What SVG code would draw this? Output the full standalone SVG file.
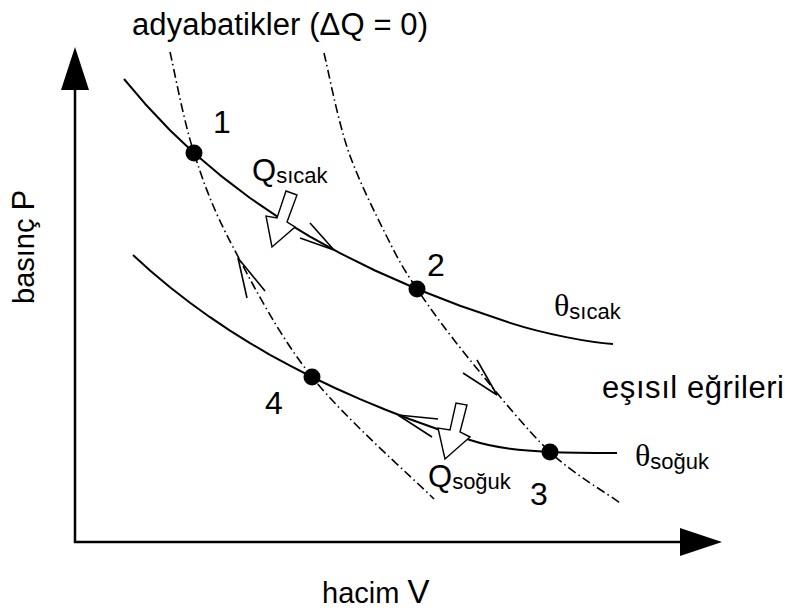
<svg xmlns="http://www.w3.org/2000/svg" width="785" height="613" viewBox="0 0 785 613">
<style>
  .t { font-family: "Liberation Sans", Arial, sans-serif; fill: #000; }
  .g { font-family: "Liberation Serif", "Times New Roman", serif; fill: #000; }
  .iso { fill: none; stroke: #000; stroke-width: 2; stroke-linejoin: round; }
  .adi { fill: none; stroke: #000; stroke-width: 1.6; stroke-dasharray: 9 3.5 1.5 3.5; }
  .barb { fill: none; stroke: #000; stroke-width: 1.6; }
  .blk { fill: #fff; stroke: #000; stroke-width: 1.4; stroke-linejoin: miter; }
  .axis { stroke: #000; stroke-width: 2.5; }
</style>
<rect width="785" height="613" fill="#fff"/>

<g id="axes">
  <line class="axis" x1="75" y1="543" x2="75" y2="88"/>
  <polygon points="75,47 61,90 89,90" fill="#000"/>
  <line class="axis" x1="74" y1="542" x2="682" y2="542"/>
  <polygon points="722,542 680,528 680,556" fill="#000"/>
  <text class="t" font-size="29" transform="translate(34,304) rotate(-90)">basınç <tspan font-size="31" font-weight="300">P</tspan></text>
  <text class="t" font-size="29" x="322" y="603">hacim <tspan font-size="33" font-weight="300">V</tspan></text>
</g>

<g id="connectors">
  <path id="hot-isotherm" class="iso" d="M124,79 L145,103.7 L170,130.2 L194,153 L220,175.1 L250,198 L280,218.4 L310,236.6 L340,253.2 L375,270.5 L417,289 L460,305.7 L510,322.9 C545,334.2 590,342.5 613,344"/>
  <path id="cold-isotherm" class="iso" d="M133,255 L150,270.4 L170,287.2 L190,302.7 L210,317.2 L230,330.6 L250,343.1 L270,354.8 L290,365.7 L312,377 L335,388 L360,399.1 L385,409.5 L410,419.2 L440,430 L470,440 C497,448.7 523,450.7 550,452 C572,453 600,453 617,453"/>
  <path id="left-adiabat" class="adi" d="M170,52 C174,68.8 183.5,120.5 194,153 C204.5,185.5 213.3,209.7 233,247 C252.7,284.3 278.5,335 312,377 C345.5,419 413.7,478.7 434,499"/>
  <path id="right-adiabat" class="adi" d="M324,53 C328,69.2 337.5,119.3 348,150 C358.5,180.7 375.5,213.8 387,237 C398.5,260.2 403.2,268.5 417,289 C430.8,309.5 447.8,332.8 470,360 C492.2,387.2 525.3,428.7 550,452 C574.7,475.3 607,493 620,503"/>
  <polyline class="barb" points="310,223 334,250 300,238"/>
  <polyline class="barb" points="247,298 238,258 265,291"/>
  <polyline class="barb" points="477,360 497,395 463,373"/>
  <polyline class="barb" points="438,419 398,415 432,437"/>
</g>

<g id="q-hot-arrow">
  <polygon class="blk" points="272,247 266,216 277,218 286,191 297,195 287,222 295,227"/>
</g>
<g id="q-cold-arrow">
  <polygon class="blk" points="445,459 438,428 450,430 456,403 467,405 460,432 470,437"/>
</g>

<g id="p1"><circle cx="194" cy="153" r="8.5" fill="#000"/><text class="t" font-size="32" x="222" y="133" text-anchor="middle">1</text></g>
<g id="p2"><circle cx="417" cy="289" r="8.5" fill="#000"/><text class="t" font-size="32" x="436" y="276" text-anchor="middle">2</text></g>
<g id="p3"><circle cx="550" cy="452" r="8.5" fill="#000"/><text class="t" font-size="32" x="539" y="505" text-anchor="middle">3</text></g>
<g id="p4"><circle cx="312" cy="377" r="8.5" fill="#000"/><text class="t" font-size="32" x="274" y="414" text-anchor="middle">4</text></g>

<g id="labels">
  <text class="t" font-size="31" x="132" y="35" textLength="296" lengthAdjust="spacing">adyabatikler (ΔQ = 0)</text>
  <text class="t" font-size="31" x="602" y="398" textLength="182" lengthAdjust="spacing">eşısıl eğrileri</text>
  <text class="t" x="252" y="181"><tspan font-size="31">Q</tspan><tspan font-size="22" y="183">sıcak</tspan></text>
  <text class="t" x="428" y="487"><tspan font-size="31">Q</tspan><tspan font-size="22" y="489">soğuk</tspan></text>
  <text x="554" y="316"><tspan class="g" font-size="32">θ</tspan><tspan class="t" font-size="22" y="319">sıcak</tspan></text>
  <text x="635" y="466"><tspan class="g" font-size="32">θ</tspan><tspan class="t" font-size="22" y="469">soğuk</tspan></text>
</g>
</svg>
